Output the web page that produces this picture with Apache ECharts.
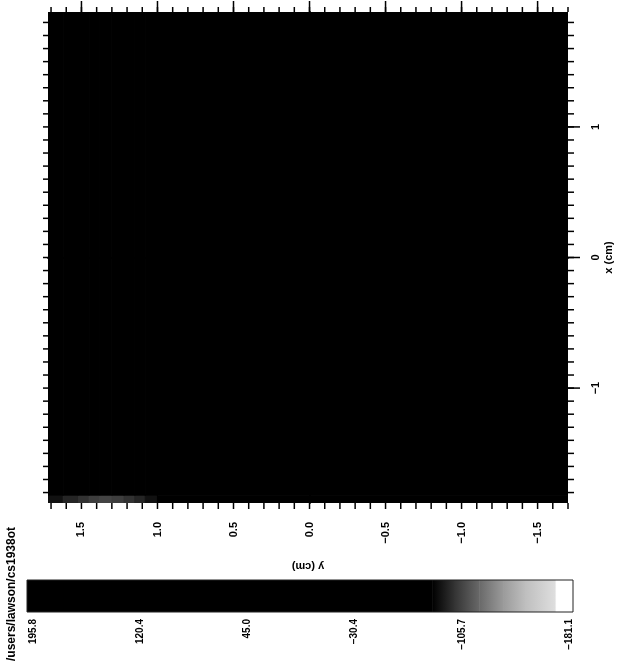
<!DOCTYPE html>
<html>
<head>
<meta charset="utf-8">
<script src="https://cdn.jsdelivr.net/npm/echarts@6/dist/echarts.min.js"></script>
<style>
  html, body { margin: 0; padding: 0; background: #fff; }
  #chart { width: 617px; height: 672px; }
</style>
</head>
<body>
<div id="chart"></div>
<script>
// field cells: edges along x (cm, vertical) and y (cm, horizontal)
const gridX = [-1.88, -1.82, 1.88]
const gridY = [1.72, 1.62, 1.52, 1.45, 1.38, 1.30, 1.22, 1.15, 1.08, 1.00, -1.70]
// one row per x band, bottom row first
const field = [
  [-90, -96, -100, -104, -106, -104, -100, -96, -90, 150],
  [195.8, 195.8, 195.8, 195.8, 195.8, 195.8, 195.8, 195.8, 195.8, 195.8]
]

// grey scale used for the field and the colour bar
const levelValues = [-183.9, -172.0, -171.0, -150.0, -135.0, -118.0, -100.0, -85.0, 200.0]
const levelGrays = [255, 255, 222, 190, 155, 105, 50, 0, 0]

// axis ticks
const yMajorTicks = [1.5, 1.0, 0.5, 0.0, -0.5, -1.0, -1.5]
const xMajorTicks = [1, 0, -1]
const barTicks = [195.8, 120.4, 45.0, -30.4, -105.7, -181.1]

const X_MIN = -1.88, X_MAX = 1.88
const Y_MIN = -1.70, Y_MAX = 1.72
const FONT = 'Liberation Sans'

function stepTicks(lo, hi) {
  const out = []
  for (let i = Math.round(lo * 10); i <= Math.round(hi * 10); i++) out.push(i / 10)
  return out
}
const yMinorTicks = stepTicks(-1.7, 1.7)
const xMinorTicks = stepTicks(-1.8, 1.8)

function grayOf(v) {
  let g = levelGrays[levelGrays.length - 1]
  if (v <= levelValues[0]) g = levelGrays[0]
  for (let i = 0; i < levelValues.length - 1; i++) {
    if (v >= levelValues[i] && v <= levelValues[i + 1]) {
      const t = (v - levelValues[i]) / (levelValues[i + 1] - levelValues[i])
      g = levelGrays[i] + t * (levelGrays[i + 1] - levelGrays[i])
      break
    }
  }
  g = Math.round(g)
  return 'rgb(' + g + ',' + g + ',' + g + ')'
}

function minus(s) {
  return String(s).replace('-', '\u2212')
}

const cells = []
field.forEach((row, r) => {
  row.forEach((v, c) => {
    cells.push([gridY[c], gridX[r], gridY[c + 1], gridX[r + 1], v])
  })
})

const barSegments = []
for (let i = 0; i < levelValues.length - 1; i++) {
  barSegments.push([levelValues[i], levelValues[i + 1]])
}

// tick marks: [value, side, length]  side: 0 bottom, 1 top, 2 left, 3 right
const SIDE_BOTTOM = 0, SIDE_TOP = 1, SIDE_LEFT = 2, SIDE_RIGHT = 3
const tickMarks = []
yMinorTicks.forEach(v => tickMarks.push([v, SIDE_BOTTOM, 6]))
yMinorTicks.forEach(v => tickMarks.push([v, SIDE_TOP, 5]))
yMajorTicks.forEach(v => tickMarks.push([v, SIDE_TOP, 11]))
xMinorTicks.forEach(v => tickMarks.push([v, SIDE_LEFT, 5]))
xMinorTicks.forEach(v => tickMarks.push([v, SIDE_RIGHT, 6]))
xMajorTicks.forEach(v => tickMarks.push([v, SIDE_RIGHT, 12]))

const chart = echarts.init(document.getElementById('chart'))

const axisLine = { color: '#000', width: 1.5 }
const labelStyle = { color: '#000', fontFamily: FONT, fontWeight: 'bold', fontSize: 11 }

const option = {
  animation: false,
  backgroundColor: '#fff',
  grid: [
    { left: 48, right: 49, top: 12, bottom: 169, outerBoundsMode: 'none' },
    { left: 27, right: 44, top: 580, height: 32, show: true, z: 5, outerBoundsMode: 'none',
      backgroundColor: 'transparent', borderColor: '#222', borderWidth: 1 }
  ],
  xAxis: [
    {
      type: 'value', gridIndex: 0, position: 'bottom', min: Y_MIN, max: Y_MAX, inverse: true,
      axisLine: { show: true, lineStyle: axisLine },
      axisTick: { show: false },
      axisLabel: {
        show: true, customValues: yMajorTicks, rotate: 90, margin: 19,
        formatter: v => minus(v.toFixed(1)), ...labelStyle
      },
      splitLine: { show: false },
      name: 'y (cm)', nameLocation: 'middle', nameGap: 58, nameRotate: 180,
      nameMoveOverlap: false,
      nameTextStyle: { ...labelStyle }
    },
    {
      type: 'value', gridIndex: 0, position: 'top', min: Y_MIN, max: Y_MAX, inverse: true,
      axisLine: { show: true, lineStyle: axisLine },
      axisTick: { show: false },
      axisLabel: { show: false },
      splitLine: { show: false }
    },
    {
      // colour bar axis
      type: 'value', gridIndex: 1, position: 'bottom', min: -183.9, max: 200.0, inverse: true,
      axisLine: { show: false },
      axisTick: { show: false },
      axisLabel: {
        show: true, customValues: barTicks, rotate: 90, margin: 7,
        formatter: v => minus(v.toFixed(1)), ...labelStyle, fontSize: 10
      },
      splitLine: { show: false }
    }
  ],
  yAxis: [
    {
      type: 'value', gridIndex: 0, position: 'right', min: X_MIN, max: X_MAX,
      axisLine: { show: true, lineStyle: axisLine },
      axisTick: { show: false },
      axisLabel: {
        show: true, customValues: xMajorTicks, rotate: 90, margin: 22,
        formatter: v => minus(Math.round(v)), ...labelStyle
      },
      splitLine: { show: false },
      name: 'x (cm)', nameLocation: 'middle', nameGap: 35, nameRotate: 90,
      nameMoveOverlap: false,
      nameTextStyle: { ...labelStyle }
    },
    {
      type: 'value', gridIndex: 0, position: 'left', min: X_MIN, max: X_MAX,
      axisLine: { show: true, lineStyle: axisLine },
      axisTick: { show: false },
      axisLabel: { show: false },
      splitLine: { show: false }
    },
    {
      type: 'value', gridIndex: 1, min: 0, max: 1, show: false
    }
  ],
  series: [
    {
      type: 'custom',
      xAxisIndex: 0,
      yAxisIndex: 0,
      clip: true,
      dimensions: ['y0', 'x0', 'y1', 'x1', 'v'],
      encode: { x: [0, 2], y: [1, 3] },
      data: cells,
      renderItem: function (params, api) {
        const p0 = api.coord([api.value(0), api.value(1)])
        const p1 = api.coord([api.value(2), api.value(3)])
        const color = grayOf(api.value(4))
        return {
          type: 'rect',
          shape: {
            x: Math.min(p0[0], p1[0]),
            y: Math.min(p0[1], p1[1]),
            width: Math.abs(p1[0] - p0[0]),
            height: Math.abs(p1[1] - p0[1])
          },
          style: { fill: color, stroke: color, lineWidth: 1 }
        }
      }
    },
    {
      // tick marks drawn outward from the frame through the axis scales
      type: 'custom',
      xAxisIndex: 0,
      yAxisIndex: 0,
      clip: false,
      z: 4,
      silent: true,
      dimensions: ['v', 'side', 'len'],
      encode: { x: 0 },
      data: tickMarks,
      renderItem: function (params, api) {
        const v = api.value(0)
        const side = api.value(1)
        const len = api.value(2)
        let p, dx = 0, dy = 0
        if (side === SIDE_BOTTOM) { p = api.coord([v, X_MIN]); dy = len }
        else if (side === SIDE_TOP) { p = api.coord([v, X_MAX]); dy = -len }
        else if (side === SIDE_LEFT) { p = api.coord([Y_MAX, v]); dx = -len }
        else { p = api.coord([Y_MIN, v]); dx = len }
        return {
          type: 'line',
          shape: { x1: p[0], y1: p[1], x2: p[0] + dx, y2: p[1] + dy },
          style: { stroke: '#000', lineWidth: 1.5 }
        }
      }
    },
    {
      type: 'custom',
      xAxisIndex: 2,
      yAxisIndex: 2,
      z: 1,
      dimensions: ['v0', 'v1'],
      encode: { x: [0, 1] },
      data: barSegments,
      renderItem: function (params, api) {
        const v0 = api.value(0)
        const v1 = api.value(1)
        const pa = api.coord([v0, 1])
        const pb = api.coord([v1, 0])
        const leftIsA = pa[0] < pb[0]
        const cLeft = grayOf(leftIsA ? v0 : v1)
        const cRight = grayOf(leftIsA ? v1 : v0)
        return {
          type: 'rect',
          shape: {
            x: Math.min(pa[0], pb[0]),
            y: Math.min(pa[1], pb[1]),
            width: Math.abs(pb[0] - pa[0]) + 0.5,
            height: Math.abs(pb[1] - pa[1])
          },
          style: {
            fill: {
              type: 'linear', x: 0, y: 0, x2: 1, y2: 0,
              colorStops: [{ offset: 0, color: cLeft }, { offset: 1, color: cRight }]
            }
          }
        }
      }
    }
  ],
  graphic: [
    {
      type: 'text',
      x: 12,
      y: 594,
      rotation: Math.PI / 2,
      style: {
        text: '/users/lawson/cs1938ot',
        fill: '#000',
        font: 'bold 12px "Liberation Sans"',
        align: 'center',
        verticalAlign: 'middle'
      }
    }
  ]
}

chart.setOption(option)
</script>
</body>
</html>
